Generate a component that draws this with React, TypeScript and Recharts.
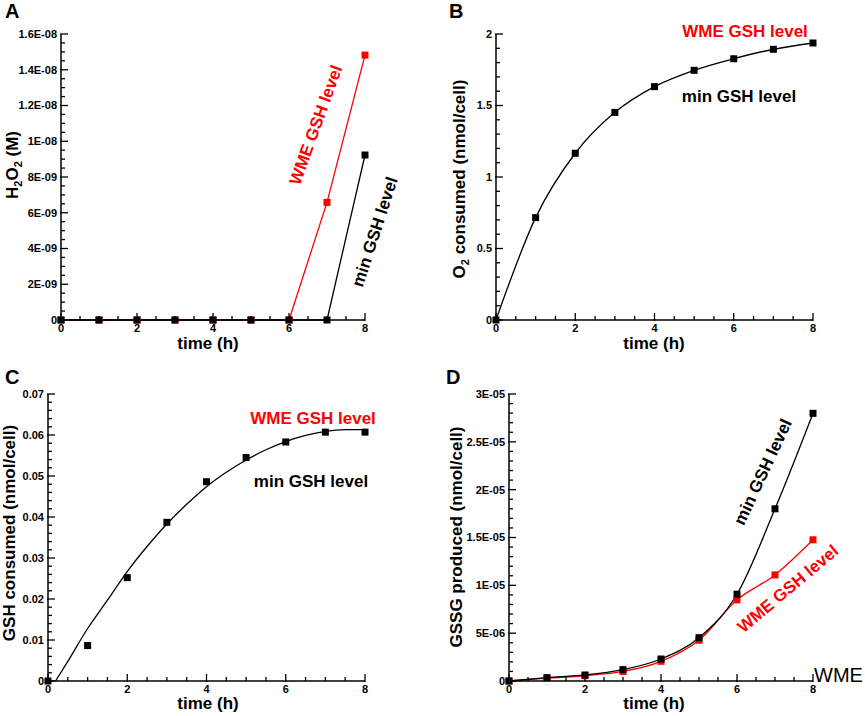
import React from "react";
import { LineChart, Line, XAxis, YAxis } from "recharts";

// Four-panel figure: H2O2, O2, GSH and GSSG over 8 hours,
// "min GSH level" (black) vs "WME GSH level" (red).

const FONT = '"Liberation Sans", Arial, Helvetica, sans-serif';
const RED = "#ff0000";
const BLACK = "#000000";

const hours = [0, 1, 2, 3, 4, 5, 6, 7, 8];
const xMajor = [0, 2, 4, 6, 8];
const xLabels = ["0", "2", "4", "6", "8"];

// A: H2O2 (M)
const h2o2Min = [0, 0, 0, 0, 0, 0, 0, 0, 9.23e-9];
const h2o2Wme = [0, 0, 0, 0, 0, 0, 0, 6.58e-9, 1.482e-8];
const aYMajor = [0, 2e-9, 4e-9, 6e-9, 8e-9, 1e-8, 1.2e-8, 1.4e-8, 1.6e-8];
const aYLabels = ["0", "2E-09", "4E-09", "6E-09", "8E-09", "1E-08", "1.2E-08", "1.4E-08", "1.6E-08"];

// B: O2 consumed (nmol/cell)
const o2Min = [0, 0.716, 1.166, 1.452, 1.632, 1.746, 1.827, 1.893, 1.937];
const bYMajor = [0, 0.5, 1, 1.5, 2];
const bYLabels = ["0", "0.5", "1", "1.5", "2"];

// C: GSH consumed (nmol/cell) - markers plus fitted curve
const gshMin = [0, 0.00864, 0.0252, 0.0387, 0.0486, 0.0545, 0.0583, 0.0607, 0.0607];
const gshFitTime = [0.19, 0.5, 1, 1.5, 2, 2.5, 3, 3.5, 4, 4.5, 5, 5.5, 6, 6.5, 7, 7.5, 8];
const gshFit = [0, 0.0048, 0.0128, 0.0197, 0.0267, 0.0328, 0.0383, 0.0431, 0.0474, 0.0509, 0.0539, 0.0564, 0.0584, 0.0599, 0.0609, 0.0613, 0.0613];
const cYMajor = [0, 0.01, 0.02, 0.03, 0.04, 0.05, 0.06, 0.07];
const cYLabels = ["0", "0.01", "0.02", "0.03", "0.04", "0.05", "0.06", "0.07"];

// D: GSSG produced (nmol/cell)
const gssgMin = [0, 3.5e-7, 6.3e-7, 1.19e-6, 2.3e-6, 4.53e-6, 9.07e-6, 1.8e-5, 2.798e-5];
const gssgWme = [0, 3.0e-7, 5.5e-7, 1.0e-6, 2.06e-6, 4.26e-6, 8.48e-6, 1.109e-5, 1.476e-5];
const dYMajor = [0, 5e-6, 1e-5, 1.5e-5, 2e-5, 2.5e-5, 3e-5];
const dYLabels = ["0", "5E-06", "1E-05", "1.5E-05", "2E-05", "2.5E-05", "3E-05"];

const tableA = hours.map((t, i) => ({ t, min: h2o2Min[i], wme: h2o2Wme[i] }));
const tableB = hours.map((t, i) => ({ t, min: o2Min[i] }));
const tableC = hours.map((t, i) => ({ t, min: gshMin[i] }));
const fitC = gshFitTime.map((t, i) => ({ t, fit: gshFit[i] }));
const tableD = hours.map((t, i) => ({ t, min: gssgMin[i], wme: gssgWme[i] }));

function axisTicks(max: number, step: number) {
  const n = Math.round(max / step);
  return Array.from({ length: n + 1 }, (_, i) => +(i * step).toPrecision(10));
}

function majorIndex(majors: number[], v: number) {
  const eps = majors[majors.length - 1] * 1e-6;
  return majors.findIndex((m) => Math.abs(m - v) <= eps);
}

function makeYTick(majors: number[], labels: string[]) {
  return (p: any) => {
    const { x, y, payload } = p;
    const idx = majorIndex(majors, payload.value);
    const major = idx >= 0;
    return (
      <g key={`y-${payload.value}`}>
        <line x1={major ? x - 1 : x} x2={x + (major ? 7 : 4)} y1={y} y2={y} stroke={BLACK} strokeWidth={1.3} />
        {major && (
          <text x={x - 4} y={y} dy="0.36em" textAnchor="end" fontFamily={FONT} fontSize={11} fontWeight="bold" fill={BLACK}>
            {labels[idx]}
          </text>
        )}
      </g>
    );
  };
}

function makeXTick(majors: number[], labels: string[]) {
  return (p: any) => {
    const { x, y, payload } = p;
    const idx = majorIndex(majors, payload.value);
    const major = idx >= 0;
    return (
      <g key={`x-${payload.value}`}>
        <line x1={x} x2={x} y1={major ? y + 1 : y} y2={y - (major ? 7 : 4)} stroke={BLACK} strokeWidth={1.3} />
        {major && (
          <text x={x} y={y + 12} textAnchor="middle" fontFamily={FONT} fontSize={11} fontWeight="bold" fill={BLACK}>
            {labels[idx]}
          </text>
        )}
      </g>
    );
  };
}

function squareDot(color: string) {
  return (p: any) => {
    const { cx, cy, index } = p;
    if (cx == null || cy == null) return <g key={`n-${index}`} />;
    return <rect key={`d-${index}`} x={cx - 3.5} y={cy - 3.5} width={7} height={7} fill={color} />;
  };
}

interface PanelProps {
  left: number;
  top: number;
  width: number;
  height: number;
  plotLeft: number;
  plotRight: number;
  plotTop: number;
  xAxisHeight: number;
  yMax: number;
  yMinorStep: number;
  yMajor: number[];
  yLabels: string[];
  data: any[];
  children: React.ReactNode;
}

function Panel(props: PanelProps) {
  const { left, top, width, height, plotLeft, plotRight, plotTop, xAxisHeight, yMax, yMinorStep, yMajor, yLabels, data, children } = props;
  return (
    <div style={{ position: "absolute", left, top, width, height }}>
      <LineChart width={width} height={height} data={data} margin={{ top: plotTop, right: plotRight, left: 0, bottom: 0 }}>
        <XAxis
          dataKey="t"
          type="number"
          domain={[0, 8]}
          ticks={axisTicks(8, 0.5)}
          interval={0}
          height={xAxisHeight}
          tickSize={0}
          tickMargin={0}
          tickLine={false}
          axisLine={{ stroke: BLACK, strokeWidth: 1.5 }}
          tick={makeXTick(xMajor, xLabels)}
        />
        <YAxis
          type="number"
          domain={[0, yMax]}
          ticks={axisTicks(yMax, yMinorStep)}
          interval={0}
          width={plotLeft}
          tickSize={0}
          tickMargin={0}
          tickLine={false}
          axisLine={{ stroke: BLACK, strokeWidth: 1.5 }}
          tick={makeYTick(yMajor, yLabels)}
        />
        {children}
      </LineChart>
    </div>
  );
}

const bold = { fontFamily: FONT, fontWeight: "bold" as const };

function Rotated({ x, y, angle, color, children }: { x: number; y: number; angle: number; color: string; children: React.ReactNode }) {
  return (
    <text transform={`translate(${x},${y}) rotate(${angle})`} textAnchor="middle" dominantBaseline="central" fontSize={17} fill={color} {...bold}>
      {children}
    </text>
  );
}

export default function App() {
  return (
    <div style={{ position: "absolute", left: 0, top: 0, width: 865, height: 716, background: "#fff", overflow: "hidden" }}>
      <Panel left={0} top={0} width={430} height={360} plotLeft={61} plotRight={65} plotTop={34} xAxisHeight={40}
        yMax={1.6e-8} yMinorStep={5e-10} yMajor={aYMajor} yLabels={aYLabels} data={tableA}>
        <Line dataKey="wme" type="linear" stroke={RED} strokeWidth={1.3} dot={squareDot(RED)} activeDot={false} isAnimationActive={false} />
        <Line dataKey="min" type="linear" stroke={BLACK} strokeWidth={1.3} dot={squareDot(BLACK)} activeDot={false} isAnimationActive={false} />
      </Panel>

      <Panel left={430} top={0} width={435} height={360} plotLeft={66} plotRight={52} plotTop={34} xAxisHeight={40}
        yMax={2} yMinorStep={0.1} yMajor={bYMajor} yLabels={bYLabels} data={tableB}>
        <Line dataKey="min" type="monotone" stroke={BLACK} strokeWidth={1.3} dot={squareDot(BLACK)} activeDot={false} isAnimationActive={false} />
      </Panel>

      <Panel left={0} top={360} width={430} height={356} plotLeft={48} plotRight={65} plotTop={34} xAxisHeight={35}
        yMax={0.07} yMinorStep={0.002} yMajor={cYMajor} yLabels={cYLabels} data={tableC}>
        <Line data={fitC} dataKey="fit" type="monotone" stroke={BLACK} strokeWidth={1.3} dot={false} activeDot={false} isAnimationActive={false} />
        <Line dataKey="min" stroke="none" dot={squareDot(BLACK)} activeDot={false} isAnimationActive={false} />
      </Panel>

      <Panel left={430} top={360} width={435} height={356} plotLeft={79} plotRight={52} plotTop={34} xAxisHeight={35}
        yMax={3e-5} yMinorStep={1e-6} yMajor={dYMajor} yLabels={dYLabels} data={tableD}>
        <Line dataKey="wme" type="monotone" stroke={RED} strokeWidth={1.3} dot={squareDot(RED)} activeDot={false} isAnimationActive={false} />
        <Line dataKey="min" type="monotone" stroke={BLACK} strokeWidth={1.3} dot={squareDot(BLACK)} activeDot={false} isAnimationActive={false} />
      </Panel>

      <svg width={865} height={716} style={{ position: "absolute", left: 0, top: 0, pointerEvents: "none" }}>
        {/* panel letters */}
        <text x={5} y={18} fontSize={20} {...bold}>A</text>
        <text x={449} y={18} fontSize={20} {...bold}>B</text>
        <text x={5} y={384} fontSize={20} {...bold}>C</text>
        <text x={446} y={384} fontSize={20} {...bold}>D</text>

        {/* x-axis titles */}
        <text x={208} y={349} textAnchor="middle" fontSize={17} {...bold}>time (h)</text>
        <text x={654} y={349} textAnchor="middle" fontSize={17} {...bold}>time (h)</text>
        <text x={208} y={709} textAnchor="middle" fontSize={17} {...bold}>time (h)</text>
        <text x={654} y={709} textAnchor="middle" fontSize={17} {...bold}>time (h)</text>

        {/* y-axis titles */}
        <text transform="translate(18,165) rotate(-90)" textAnchor="middle" fontSize={17} {...bold}>
          H<tspan fontSize={11} dy={4}>2</tspan>
          <tspan dy={-4}>O</tspan>
          <tspan fontSize={11} dy={4}>2</tspan>
          <tspan dy={-4}> (M)</tspan>
        </text>
        <text transform="translate(465,179) rotate(-90)" textAnchor="middle" fontSize={17} {...bold}>
          O<tspan fontSize={11} dy={4}>2</tspan>
          <tspan dy={-4}> consumed (nmol/cell)</tspan>
        </text>
        <text transform="translate(15,533) rotate(-90)" textAnchor="middle" fontSize={17} {...bold}>GSH consumed (nmol/cell)</text>
        <text transform="translate(462,537) rotate(-90)" textAnchor="middle" fontSize={17} {...bold}>GSSG produced (nmol/cell)</text>

        {/* series annotations */}
        <Rotated x={316} y={125} angle={-70} color={RED}>WME GSH level</Rotated>
        <Rotated x={375} y={232} angle={-72} color={BLACK}>min GSH level</Rotated>

        <text x={745} y={37} textAnchor="middle" fontSize={17} fill={RED} {...bold}>WME GSH level</text>
        <text x={739} y={102} textAnchor="middle" fontSize={17} fill={BLACK} {...bold}>min GSH level</text>

        <text x={313} y={424} textAnchor="middle" fontSize={17} fill={RED} {...bold}>WME GSH level</text>
        <text x={311} y={487} textAnchor="middle" fontSize={17} fill={BLACK} {...bold}>min GSH level</text>

        <Rotated x={763} y={472} angle={-65} color={BLACK}>min GSH level</Rotated>
        <Rotated x={788} y={589} angle={-40} color={RED}>WME GSH level</Rotated>

        <text x={814} y={682} fontSize={20} fontFamily={FONT} fill={BLACK}>WME</text>
      </svg>
    </div>
  );
}
